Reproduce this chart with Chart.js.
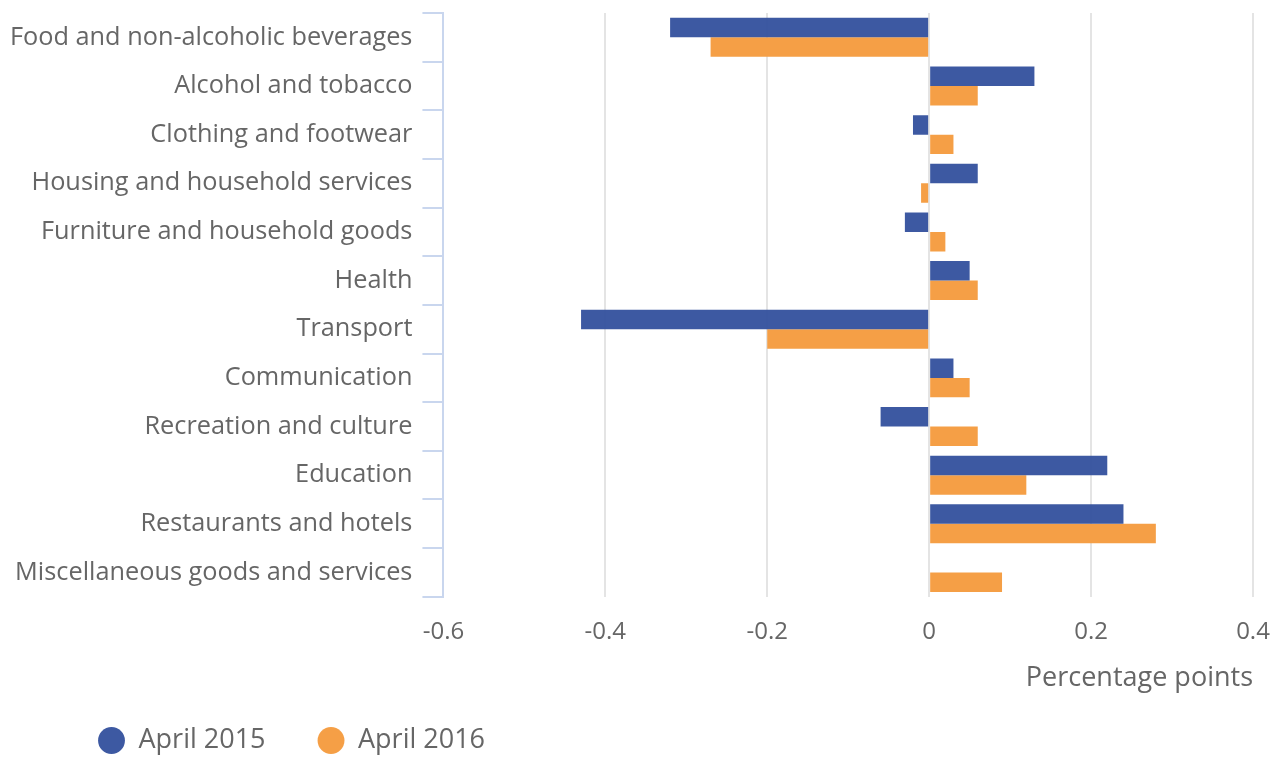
<!DOCTYPE html>
<html>
<head>
<meta charset="utf-8">
<script src="https://cdn.jsdelivr.net/npm/chart.js@4/dist/chart.umd.min.js"></script>
<style>
  html, body { margin: 0; padding: 0; background: #fff; }
  #wrap { width: 1282px; height: 758px; }
</style>
</head>
<body>
<div id="wrap"><canvas id="bars"></canvas></div>
<script>
// categories (top to bottom)
var categorie = [
  'Food and non-alcoholic beverages',
  'Alcohol and tobacco',
  'Clothing and footwear',
  'Housing and household services',
  'Furniture and household goods',
  'Health',
  'Transport',
  'Communication',
  'Recreation and culture',
  'Education',
  'Restaurants and hotels',
  'Miscellaneous goods and services'
];

// contributions, percentage points
var april2015 = [-0.32, 0.13, -0.02, 0.06, -0.03, 0.05, -0.43, 0.03, -0.06, 0.22, 0.24, 0];
var april2016 = [-0.27, 0.06, 0.03, -0.01, 0.02, 0.06, -0.20, 0.05, 0.06, 0.12, 0.28, 0.09];

var tickValues = [-0.6, -0.4, -0.2, 0, 0.2, 0.4];

var grigio = '#666666';
var font = 'Open Sans';

// sposta la legenda verso destra e un po' in basso
var legendShift = {
  id: 'legendShift',
  afterLayout: function(chart) {
    var lg = chart.legend;
    if (!lg) return;
    lg.left += 46;
    lg.right += 46;
    lg.top += 6;
    lg.bottom += 6;
  }
};

var chart = new Chart(document.getElementById('bars'), {
  type: 'bar',
  data: {
    labels: categorie,
    datasets: [{
      label: 'April 2015',
      data: april2015,
      backgroundColor: 'rgba(51,80,157,0.95)',
      borderWidth: 0
    }, {
      label: 'April 2016',
      data: april2016,
      backgroundColor: 'rgba(245,156,64,0.97)',
      borderWidth: 0
    }]
  },
  options: {
    indexAxis: 'y',
    responsive: true,
    maintainAspectRatio: false,
    animation: false,
    layout: { padding: { top: 13, right: 29, left: 0, bottom: 0 } },
    datasets: { bar: { categoryPercentage: 0.8, barPercentage: 1 } },
    scales: {
      x: {
        min: -0.6,
        max: 0.4,
        afterBuildTicks: function(axis) {
          axis.ticks = tickValues.map(function(v) { return { value: v }; });
        },
        afterFit: function(axis) {
          axis.paddingLeft = 0;
          axis.paddingRight = 0;
        },
        grid: { color: '#e4e4e4', lineWidth: 2, drawTicks: false },
        border: { display: false },
        ticks: {
          color: grigio,
          padding: 21,
          font: { family: font, size: 24 },
          callback: function(v) { return String(Math.round(v * 10) / 10); }
        },
        title: {
          display: true,
          text: 'Percentage points',
          align: 'end',
          color: grigio,
          font: { family: font, size: 27 },
          padding: { top: -5, bottom: -26 }
        }
      },
      y: {
        afterFit: function(axis) {
          axis.paddingTop = 0;
          axis.paddingBottom = 0;
        },
        grid: {
          offset: true,
          drawOnChartArea: false,
          drawTicks: true,
          tickLength: 21,
          color: '#c9d6ee',
          lineWidth: 2
        },
        border: { display: true, color: '#c9d6ee', width: 2 },
        ticks: {
          color: grigio,
          padding: 10,
          font: { family: font, size: 25.3 }
        }
      }
    },
    plugins: {
      legend: {
        position: 'bottom',
        align: 'start',
        labels: {
          usePointStyle: true,
          pointStyle: 'circle',
          boxWidth: 27,
          boxHeight: 19,
          padding: 52,
          color: grigio,
          font: { family: font, size: 27 }
        }
      },
      tooltip: { enabled: false }
    }
  },
  plugins: [legendShift]
});
</script>
</body>
</html>
